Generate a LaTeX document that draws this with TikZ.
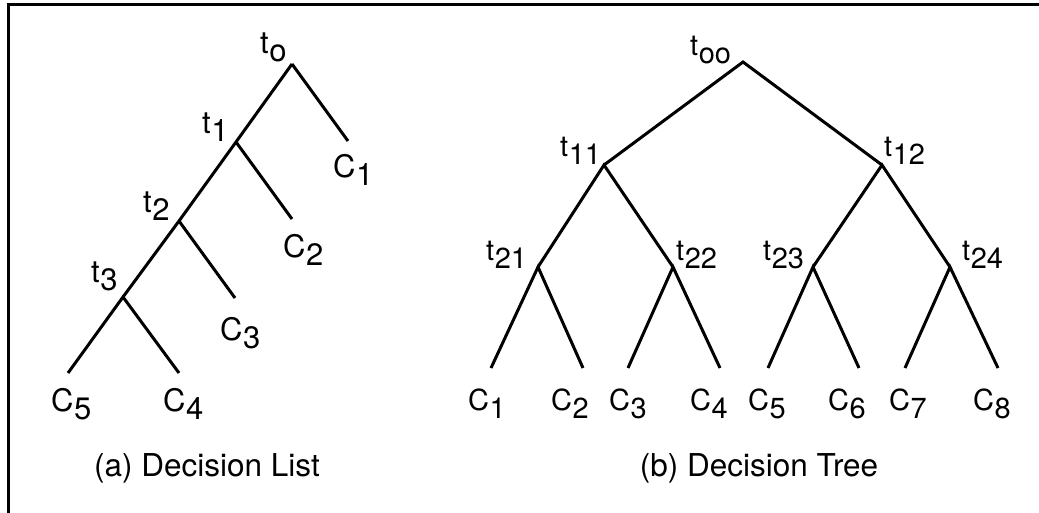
\documentclass[tikz,border=0pt]{standalone}
\usepackage{fontspec}
\setmainfont{TeX Gyre Heros}
\newcommand{\lbl}[2]{#1\kern0.5pt\raisebox{-8pt}{#2}}
\begin{document}
\begin{tikzpicture}[x=1pt,y=-1pt,
  edge/.style={line width=3pt,line cap=butt,line join=miter},
  labL/.style={anchor=base west,inner sep=0pt,font=\fontsize{31}{36}\selectfont},
  labR/.style={anchor=base west,inner sep=0pt,font=\fontsize{29}{34}\selectfont},
  caption/.style={anchor=base,inner sep=0pt,font=\fontsize{31.5}{37}\selectfont}]
\useasboundingbox (0,0) rectangle (1039,512);
\clip (0,0) rectangle (1039,512);
\fill[white] (0,0) rectangle (1039,512);
\draw[line width=3pt] (8.5,4.5) rectangle (1060,540);
% ---- (a) decision list ----
\coordinate (a0) at (292,64);
\coordinate (a1) at (236,142);
\coordinate (a2) at (179,221);
\coordinate (a3) at (123,297);
\coordinate (ac1) at (348,141);
\coordinate (ac2) at (292,219);
\coordinate (ac3) at (235,298);
\coordinate (ac4) at (179,373);
\coordinate (ac5) at (68,373);
\draw[edge] (a0) -- (a1) -- (a2) -- (a3) -- (ac5);
\draw[edge] (a0) -- (ac1);
\draw[edge] (a1) -- (ac2);
\draw[edge] (a2) -- (ac3);
\draw[edge] (a3) -- (ac4);
\node[labL] (la0) at (260,53) {\lbl{t}{o}};
\node[labL] (la1) at (202,133) {\lbl{t}{1}};
\node[labL] (la2) at (143,212) {\lbl{t}{2}};
\node[labL] (la3) at (91,282) {\lbl{t}{3}};
\node[labL] (lc1) at (333,177) {\lbl{C}{1}};
\node[labL] (lc2) at (283,257) {\lbl{C}{2}};
\node[labL] (lc3) at (220,340) {\lbl{C}{3}};
\node[labL] (lc5) at (51,411) {\lbl{C}{5}};
\node[labL] (lc4) at (163,411) {\lbl{C}{4}};
\node[caption] (capa) at (207,476) {(a) Decision List};
% ---- (b) decision tree ----
\coordinate (b00) at (743,62);
\coordinate (b11) at (604,165);
\coordinate (b12) at (882,165);
\coordinate (b21) at (538,267);
\coordinate (b22) at (673,267);
\coordinate (b23) at (813,267);
\coordinate (b24) at (950,267);
\coordinate (bc1) at (491,368);
\coordinate (bc2) at (583,368);
\coordinate (bc3) at (628,368);
\coordinate (bc4) at (720,368);
\coordinate (bc5) at (768,368);
\coordinate (bc6) at (859,368);
\coordinate (bc7) at (905,368);
\coordinate (bc8) at (998,368);
\draw[edge] (b11) -- (b00) -- (b12);
\draw[edge] (b21) -- (b11) -- (b22);
\draw[edge] (b23) -- (b12) -- (b24);
\draw[edge] (bc1) -- (b21) -- (bc2);
\draw[edge] (bc3) -- (b22) -- (bc4);
\draw[edge] (bc5) -- (b23) -- (bc6);
\draw[edge] (bc7) -- (b24) -- (bc8);
\node[labR] (lb00) at (690,55) {\lbl{t}{oo}};
\node[labR] (lb11) at (560,156) {\lbl{t}{11}};
\node[labR] (lb12) at (884,156) {\lbl{t}{12}};
\node[labR] (lb21) at (486,260) {\lbl{t}{21}};
\node[labR] (lb22) at (676,260) {\lbl{t}{22}};
\node[labR] (lb23) at (763,260) {\lbl{t}{23}};
\node[labR] (lb24) at (962,260) {\lbl{t}{24}};
\node[labR] (ld1) at (468,410) {\lbl{C}{1}};
\node[labR] (ld2) at (551,410) {\lbl{C}{2}};
\node[labR] (ld3) at (609,410) {\lbl{C}{3}};
\node[labR] (ld4) at (690,410) {\lbl{C}{4}};
\node[labR] (ld5) at (748,410) {\lbl{C}{5}};
\node[labR] (ld6) at (828,410) {\lbl{C}{6}};
\node[labR] (ld7) at (889,410) {\lbl{C}{7}};
\node[labR] (ld8) at (973,410) {\lbl{C}{8}};
\node[caption] (capb) at (759,476) {(b) Decision Tree};
\end{tikzpicture}
\end{document}
